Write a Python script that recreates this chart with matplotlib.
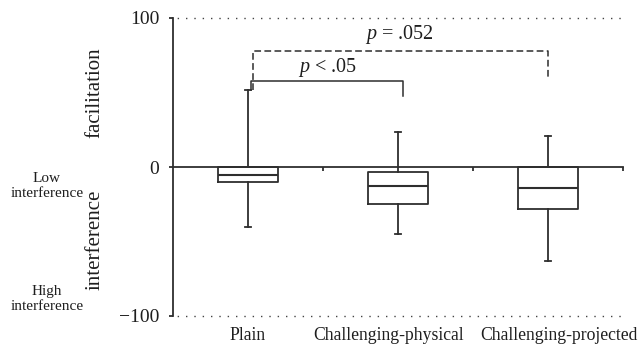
import matplotlib
matplotlib.use("Agg")
import matplotlib.pyplot as plt

plt.rcParams['font.family'] = ['Liberation Serif', 'DejaVu Serif']
plt.rcParams['mathtext.fontset'] = 'custom'
plt.rcParams['mathtext.it'] = 'Liberation Serif:italic'
plt.rcParams['mathtext.rm'] = 'Liberation Serif'

categories = ["Plain", "Challenging-physical", "Challenging-projected"]
whislo = [-40, -45, -63]
q1 = [-10, -24.5, -28]
med = [-5.3, -12.8, -14.4]
q3 = [0, -3.4, 0]
whishi = [52, 23.5, 20.5]

bracket1_text = "$p$ < .05"
bracket2_text = "$p$ = .052"

LC = "#2e2e2e"
TC = "#1e1e1e"

fig = plt.figure(figsize=(6.44, 3.47), dpi=100)
ax = fig.add_axes([173/644, 1-316/347, (623-173)/644, (316-18)/347])

stats = []
for i, c in enumerate(categories):
    stats.append(dict(label=c, whislo=whislo[i], q1=q1[i], med=med[i],
                      q3=q3[i], whishi=whishi[i], fliers=[]))
pos = list(range(len(categories)))
ax.bxp(stats, positions=pos, widths=0.4, capwidths=0.04, showfliers=False,
       boxprops=dict(color=LC, linewidth=1.3),
       medianprops=dict(color=LC, linewidth=1.5),
       whiskerprops=dict(color=LC, linewidth=1.3),
       capprops=dict(color=LC, linewidth=1.3))

ax.set_xlim(-0.5, 2.5)
ax.set_ylim(-100, 100)

# gridlines at +/-100
for yv in (100, -100):
    ax.axhline(yv, color="#444444", lw=1.0, linestyle=(3, (1.0, 5.0)), zorder=0,
               clip_on=False)

# spines
ax.spines['top'].set_visible(False)
ax.spines['right'].set_visible(False)
ax.spines['bottom'].set_position(('data', 0))
ax.spines['bottom'].set_color(LC)
ax.spines['bottom'].set_linewidth(1.3)
ax.spines['left'].set_color(LC)
ax.spines['left'].set_linewidth(1.3)

ax.set_xticks(pos)
ax.set_xticklabels([])
ax.tick_params(axis='x', which='major', length=0)
ax.set_xticks([0.5, 1.5, 2.5], minor=True)
ax.tick_params(axis='x', which='minor', length=3, width=1.3, color=LC, direction='out')

ax.set_yticks([-100, 0, 100])
ax.tick_params(axis='y', length=3, width=1.3, color=LC, pad=7, labelsize=14, labelcolor=TC)

label_shift = [0.0, -0.06, 0.07]
for i, c in enumerate(categories):
    ax.text(i + label_shift[i], -0.065, c, transform=ax.get_xaxis_transform(),
            ha='center', va='center', fontsize=12.7, color=TC)

# significance brackets
ax.plot([0.02, 0.02, 1.03, 1.03], [whishi[0], 57.5, 57.5, 47.5], color=LC, lw=1.1)
ax.plot([0.03, 0.03, 2.0, 2.0], [whishi[0], 77.7, 77.7, 59], color=LC, lw=1.1,
        linestyle=(0, (4.4, 2.2)))
ax.text(0.53, 67, bracket1_text, ha='center', va='center', fontsize=14.5, color=TC)
ax.text(1.01, 89, bracket2_text, ha='center', va='center', fontsize=14.5, color=TC)

# side labels
fig.text(95/644, 1-93/347, "facilitation", rotation=90, ha='center', va='center',
         fontsize=15, color=TC)
fig.text(95/644, 1-240/347, "interference", rotation=90, ha='center', va='center',
         fontsize=15, color=TC)
fig.text(47/644, 1-186/347, "Low\ninterference", ha='center', va='center',
         fontsize=11, color=TC, linespacing=1.25)
fig.text(47/644, 1-299/347, "High\ninterference", ha='center', va='center',
         fontsize=11, color=TC, linespacing=1.25)

fig.savefig("out.png", dpi=100)
